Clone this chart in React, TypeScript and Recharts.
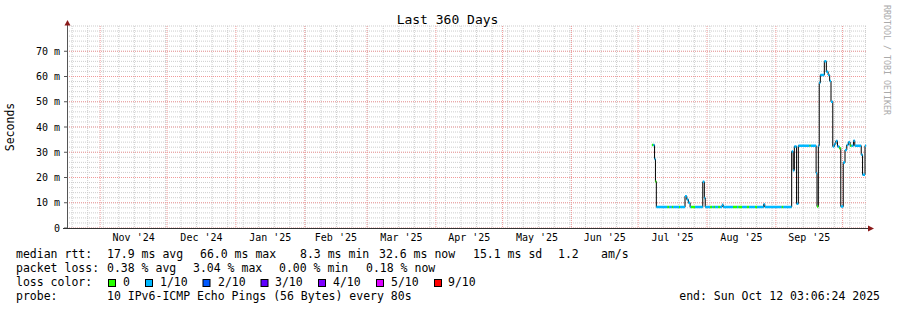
import React from "react";
import { ComposedChart, Line, XAxis, YAxis, CartesianGrid } from "recharts";

// time axis: days since start (Oct 17 2024 03:06), 360 days shown
const monthStarts = [14.9, 45, 76, 107, 135, 166, 196, 227, 257, 288, 319, 349];
const monthMids = [30, 60.5, 91.5, 121, 150.5, 181, 211.5, 242, 272.5, 303.5, 334];
const monthLabels = ["Nov '24", "Dec '24", "Jan '25", "Feb '25", "Mar '25", "Apr '25", "May '25", "Jun '25", "Jul '25", "Aug '25", "Sep '25"];
const yTicks = [0, 10, 20, 30, 40, 50, 60, 70];

// median rtt steps (ms): step start day, value, loss index (0 = 0/10, 1 = 1/10)
const stepStart = [
  263.2, 263.8, 264.4, 264.8, 265.2, 270.1, 271.0, 272.2, 272.8, 275.4,
  275.9, 278.1, 278.9, 279.6, 280.4, 280.8, 282.6, 286.1, 286.8, 287.2,
  289.4, 290.3, 290.9, 291.6, 293.0, 293.9, 294.8, 295.3, 299.7, 301.5,
  302.1, 303.8, 305.9, 306.9, 309.6, 310.5, 313.5, 314.0, 321.6, 322.3,
  326.1, 326.8, 327.3, 328.3, 329.1, 334.1, 334.6, 337.1, 337.5, 338.1,
  338.5, 339.0, 340.8, 341.7, 342.5, 343.2, 343.8, 344.6, 345.3, 346.0,
  346.7, 347.5, 348.2, 349.3, 350.1, 350.9, 351.6, 352.4, 353.0, 353.9,
  354.5, 357.4, 358.0, 359.1,
];
const stepMs = [
  32.9, 32.9, 27.3, 18.4, 8.3, 8.3, 8.3, 8.3, 8.3, 8.3,
  8.3, 12.6, 11.3, 10.0, 8.3, 8.3, 8.3, 18.3, 11.9, 8.3,
  8.3, 8.3, 8.3, 8.3, 8.3, 8.3, 9.2, 8.3, 8.3, 8.3,
  8.3, 8.3, 8.3, 8.3, 8.3, 8.3, 9.4, 8.3, 8.3, 8.3,
  30.3, 22.8, 32.3, 9.6, 32.6, 32.6, 32.6, 21.7, 8.5, 32.6,
  57.5, 60.6, 66.0, 61.9, 60.6, 58.2, 50.0, 32.3, 33.3, 34.5,
  32.3, 31.6, 8.5, 25.9, 30.9, 32.9, 34.0, 32.6, 32.6, 34.6,
  32.6, 29.0, 21.1, 32.6,
];
const stepLoss = [
  0, 1, 1, 0, 1, 0, 1, 0, 1, 0,
  1, 1, 1, 1, 1, 0, 1, 1, 1, 1,
  0, 1, 0, 1, 0, 1, 1, 1, 0, 1,
  0, 1, 0, 1, 0, 1, 1, 1, 0, 1,
  1, 1, 1, 1, 1, 0, 1, 1, 0, 1,
  1, 1, 1, 1, 1, 1, 1, 1, 1, 1,
  1, 0, 1, 1, 1, 1, 1, 0, 1, 1,
  1, 1, 1, 1,
];
const lastDay = 359.6;

const lossColors = ["#26ff00", "#00b8ff", "#0059ff", "#5e00ff", "#7e00ff", "#dd00ff", "#ff0000"];
const lossNames = ["0", "1/10", "2/10", "3/10", "4/10", "5/10", "9/10"];

const rttStats = ["17.9 ms avg", "66.0 ms max", "8.3 ms min", "32.6 ms now", "15.1 ms sd", "1.2", "am/s"];
const lossStats = ["0.38 % avg", "3.04 % max", "0.00 % min", "0.18 % now"];

const stepData = stepStart
  .map((d, i) => ({ day: d, ms: stepMs[i] }))
  .concat([{ day: lastDay, ms: stepMs[stepMs.length - 1] }]);

function segmentsFor(loss: number) {
  const out: { day: number; ms: number | null }[] = [];
  stepStart.forEach((d, i) => {
    if (stepLoss[i] !== loss) return;
    const end = i + 1 < stepStart.length ? stepStart[i + 1] : lastDay;
    out.push({ day: d, ms: stepMs[i] }, { day: end, ms: stepMs[i] }, { day: end, ms: null });
  });
  return out;
}

const minorY = Array.from({ length: 41 }, (_, i) => i * 2);
const weekly = Array.from({ length: 52 }, (_, i) => 2.3 + i * 7);

const MONO = "'DejaVu Sans Mono', monospace";

export default function App() {
  const rttX = [107, 200, 300, 379, 473, 558, 601];
  const lossX = [107, 193, 279, 366];
  const boxX = [108.5, 145.5, 203, 261, 318.5, 376.5, 434.5];
  const nameX = [123, 160, 218, 275, 333, 391, 448];

  return (
    <div style={{ position: "absolute", left: 0, top: 0, width: 897, height: 310, background: "#fff" }}>
      <ComposedChart width={897} height={310} margin={{ top: 26, right: 30, bottom: 0, left: 0 }}>
        <CartesianGrid
          horizontalValues={minorY}
          verticalValues={weekly}
          stroke="#cdcdcd"
          strokeDasharray="1 1"
        />
        <CartesianGrid
          horizontalValues={yTicks}
          verticalValues={monthStarts}
          stroke="#f09a9a"
          strokeDasharray="1 1"
        />
        <XAxis
          type="number"
          dataKey="day"
          domain={[0, 360]}
          ticks={monthMids}
          tickFormatter={(v: number) => monthLabels[monthMids.indexOf(v)] ?? ""}
          tickLine={false}
          axisLine={false}
          tickSize={4}
          tickMargin={2}
          height={82}
          interval={0}
          allowDataOverflow
          tick={{ fontFamily: MONO, fontSize: 10, fill: "#000" }}
        />
        <YAxis
          type="number"
          domain={[0, 80]}
          ticks={yTicks}
          width={67}
          tickSize={3}
          tickMargin={4}
          axisLine={false}
          tickLine={{ stroke: "#555" }}
          interval={0}
          tickFormatter={(v: number) => (v === 0 ? "0" : `${v} m`)}
          tick={{ fontFamily: MONO, fontSize: 10, fill: "#000" }}
        />
        <Line
          data={stepData}
          dataKey="ms"
          type="stepAfter"
          stroke="#000"
          strokeWidth={1}
          dot={false}
          activeDot={false}
          isAnimationActive={false}
        />
        {[0, 1].map((loss) => (
          <Line
            key={loss}
            data={segmentsFor(loss)}
            dataKey="ms"
            type="linear"
            stroke={lossColors[loss]}
            strokeWidth={2.5}
            dot={false}
            activeDot={false}
            connectNulls={false}
            isAnimationActive={false}
          />
        ))}
      </ComposedChart>

      <svg
        width={897}
        height={310}
        style={{ position: "absolute", left: 0, top: 0, pointerEvents: "none" }}
        fontFamily={MONO}
      >
        {/* axes with arrows */}
        <line x1={67.5} y1={228.5} x2={67.5} y2={24} stroke="#555" />
        <line x1={63} y1={228.5} x2={870} y2={228.5} stroke="#333" />
        <polygon points="64.5,25.5 70.5,25.5 67.5,20" fill="#8b1a1a" />
        <polygon points="868,225.5 868,231.5 874,228.5" fill="#8b1a1a" />

        <text x={447.5} y={24} fontSize={13} textAnchor="middle" fill="#000">
          Last 360 Days
        </text>
        <text x={14} y={127} fontSize={11.5} textAnchor="middle" fill="#000" transform="rotate(-90 14 127)">
          Seconds
        </text>
        <text x={884} y={60} fontSize={8.3} textAnchor="middle" fill="#aaa" transform="rotate(90 884 60)">
          RRDTOOL / TOBI OETIKER
        </text>

        <g fontSize={11.5} fill="#000" style={{ whiteSpace: "pre" }}>
          <text x={16} y={257.5}>median rtt:</text>
          {rttStats.map((s, i) => (
            <text key={s} x={rttX[i]} y={257.5}>{s}</text>
          ))}
          <text x={16} y={271.7}>packet loss:</text>
          {lossStats.map((s, i) => (
            <text key={s} x={lossX[i]} y={271.7}>{s}</text>
          ))}
          <text x={16} y={285.9}>loss color:</text>
          {lossNames.map((n, i) => (
            <g key={n}>
              <rect x={boxX[i]} y={279.5} width={7} height={7} fill={lossColors[i]} stroke="#000" strokeWidth={1} />
              <text x={nameX[i]} y={285.9}>{n}</text>
            </g>
          ))}
          <text x={16} y={300.1}>probe:</text>
          <text x={107} y={300.1}>10 IPv6-ICMP Echo Pings (56 Bytes) every 80s</text>
          <text x={880} y={300.1} textAnchor="end">end: Sun Oct 12 03:06:24 2025</text>
        </g>
      </svg>
    </div>
  );
}
